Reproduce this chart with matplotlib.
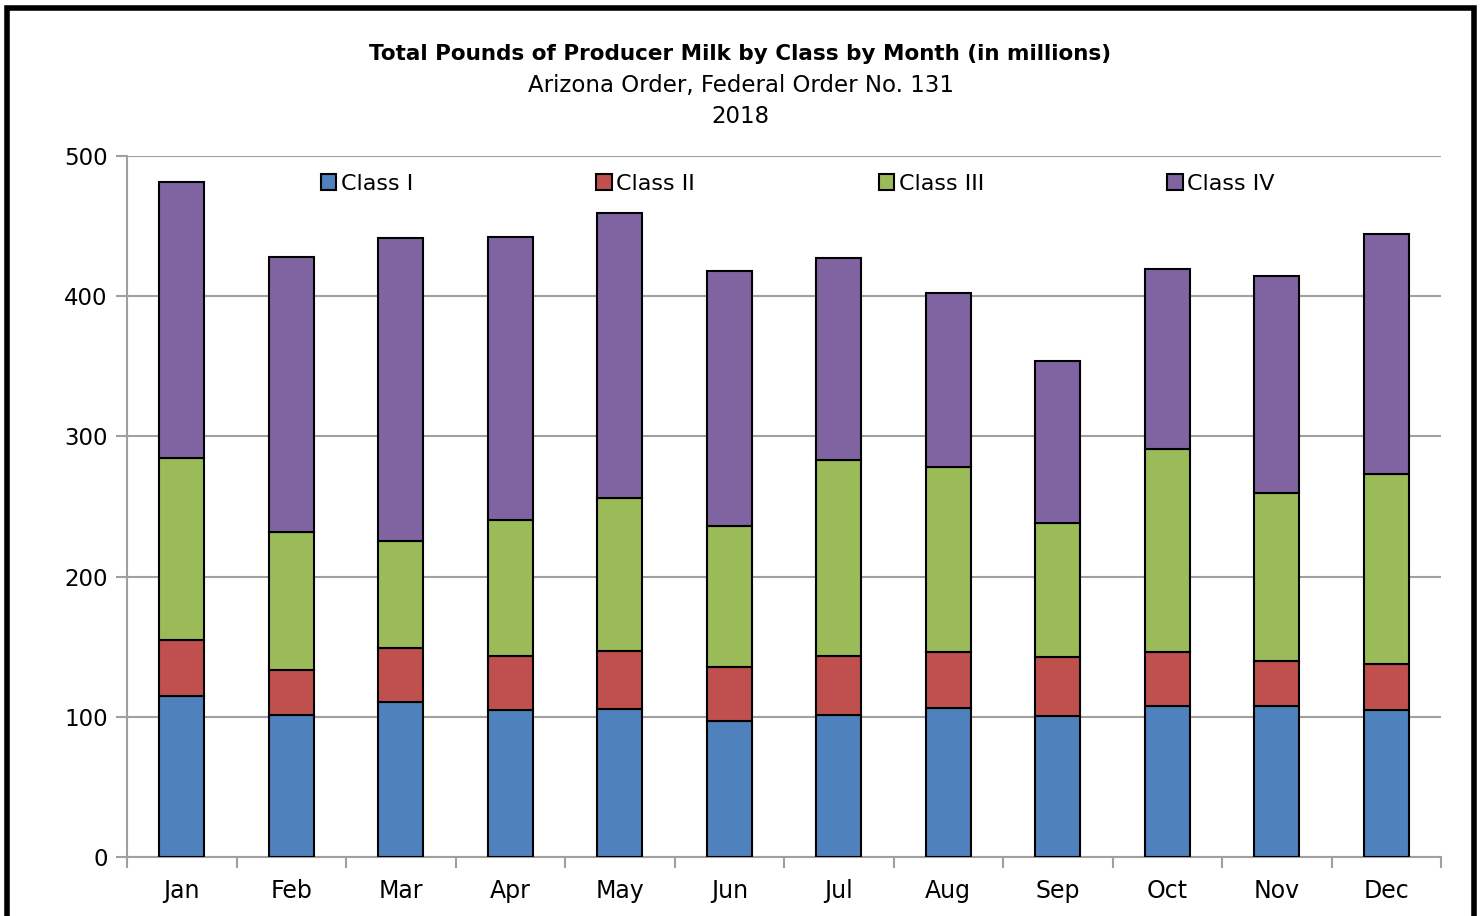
import matplotlib.pyplot as plt
import numpy as np
from matplotlib.patches import Rectangle

months = ['Jan', 'Feb', 'Mar', 'Apr', 'May', 'Jun', 'Jul', 'Aug', 'Sep', 'Oct', 'Nov', 'Dec']
class_1 = [115.0, 101.3, 110.6, 104.9, 105.6, 97.0, 101.3, 106.3, 100.6, 107.7, 107.7, 104.9]
class_2 = [39.8, 32.1, 38.5, 38.5, 41.3, 38.5, 42.1, 39.9, 42.1, 38.5, 32.1, 32.8]
class_3 = [129.8, 98.4, 76.3, 97.0, 109.2, 100.6, 139.8, 132.0, 95.5, 144.8, 119.8, 135.5]
class_4 = [196.9, 196.2, 216.1, 201.8, 203.2, 181.9, 144.0, 124.1, 115.6, 128.4, 154.8, 171.2]

series = [('Class I', class_1, '#4F81BD'),
          ('Class II', class_2, '#C0504D'),
          ('Class III', class_3, '#9BBB59'),
          ('Class IV', class_4, '#8064A2')]

plt.rcParams['font.family'] = 'DejaVu Sans'

fig = plt.figure(figsize=(14.81, 9.16), dpi=100)
ax = fig.add_axes([0.0858, 0.0644, 0.8872, 0.7653])

x = np.arange(len(months))
bottom = np.zeros(len(months))
for name, vals, color in series:
    ax.bar(x, vals, width=0.41, bottom=bottom, color=color, edgecolor='black',
           linewidth=1.5, label=name, zorder=3)
    bottom += np.array(vals)

ax.set_xlim(-0.5, len(months) - 0.5)
ax.set_ylim(0, 500)
ax.set_yticks(range(0, 501, 100))
ax.grid(axis='y', color='#A0A0A0', linewidth=1.5, zorder=0)

# month labels centred, ticks at category boundaries
ax.set_xticks(x)
ax.set_xticklabels(months, fontsize=17)
ax.tick_params(axis='x', length=0, pad=16)
ax.set_xticks(np.arange(-0.5, len(months)), minor=True)
ax.tick_params(axis='x', which='minor', length=8, width=1.5, color='#A0A0A0')
ax.tick_params(axis='y', labelsize=16.5, length=8, width=1.5, color='#A0A0A0', pad=6)

for side in ['top', 'right']:
    ax.spines[side].set_visible(False)
for side in ['left', 'bottom']:
    ax.spines[side].set_color('#A0A0A0')
    ax.spines[side].set_linewidth(1.5)

leg = ax.legend(loc='upper left', bbox_to_anchor=(0.134, 1.0), ncol=4, frameon=False,
                fontsize=16, handlelength=0.7, handleheight=0.7, handletextpad=0.2,
                columnspacing=8.25, borderaxespad=0.4)

# titles
fig.text(0.5, 0.941, 'Total Pounds of Producer Milk by Class by Month (in millions)',
         ha='center', va='center', fontsize=15.5, fontweight='bold')
fig.text(0.5, 0.907, 'Arizona Order, Federal Order No. 131', ha='center', va='center', fontsize=16.5)
fig.text(0.5, 0.873, '2018', ha='center', va='center', fontsize=16.5)

# outer frame
fig.patches.append(Rectangle((0.0045, -0.05), 0.9905, 1.041, transform=fig.transFigure,
                             fill=False, edgecolor='black', linewidth=4))

fig.savefig('out.png', dpi=100)
